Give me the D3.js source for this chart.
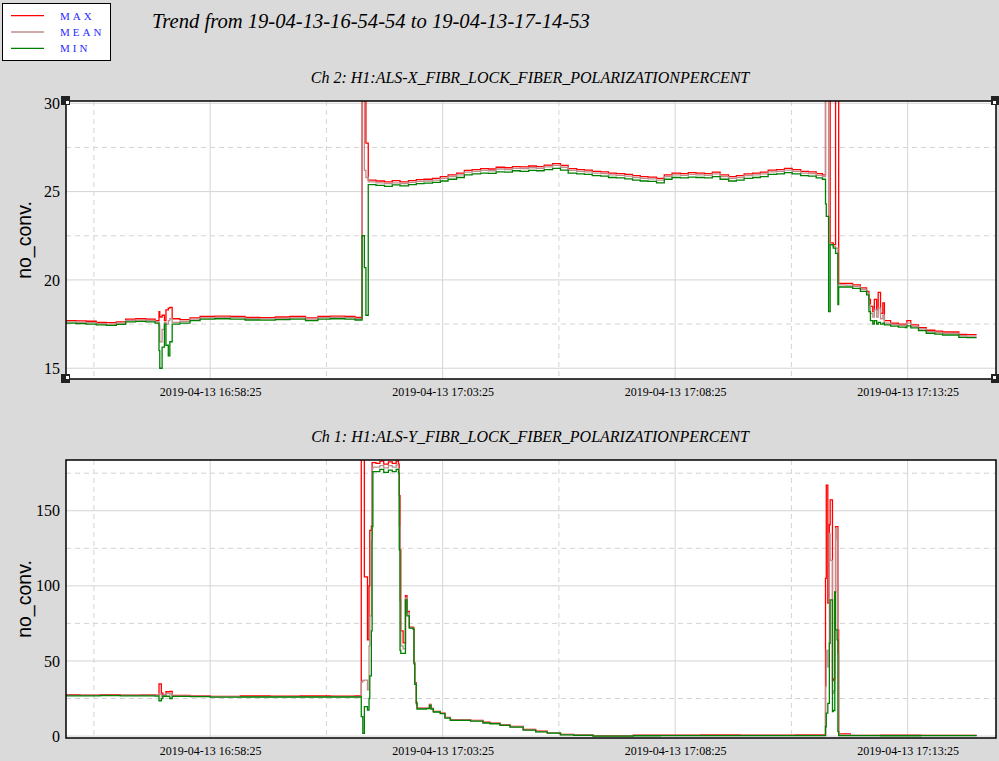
<!DOCTYPE html>
<html>
<script src="https://cdn.jsdelivr.net/npm/d3@7"></script>
<style>
  body, html { margin: 0; padding: 0; background: #dadada; }
  svg { display: block; }
</style>
<body>
<svg width="999" height="761"></svg>
<script>

// time axis: seconds after 16:55:19
var t0 = new Date(2019, 3, 13, 16, 55, 19),
    t1 = new Date(2019, 3, 13, 17, 15, 19);

var majorTicks = ['16:58:25', '17:03:25', '17:08:25', '17:13:25'],
    minorTicks = ['16:55:55', '17:00:55', '17:05:55', '17:10:55'];

var seriesNames = ['MAX', 'MEAN', 'MIN'],
    seriesColors = ['#ff0000', '#bc8f8f', '#008000'];

// Ch 2 (top)
var ch2Sec = [0,13,26,39,52,65,77,90,103,115,
  120,121,124,127,129,132,134,137,147,160,
  173,192,212,231,250,270,289,309,325,341,
  360,373,382,385,387,390,400,411,421,431,
  442,452,462,473,483,493,504,514,524,535,
  545,555,566,576,586,597,607,617,628,638,
  648,659,669,679,690,700,710,721,731,741,
  751,762,772,782,793,803,813,824,834,844,
  855,865,875,886,896,906,917,927,937,948,
  958,968,976,980,981,984,986,990,993,996,
  997,1006,1015,1025,1033,1036,1038,1041,1043,1046,
  1048,1051,1054,1056,1064,1074,1083,1085,1090,1100,
  1110,1121,1131,1141,1152,1162,1175];
var ch2Max = [17.7,17.68,17.66,17.6,17.58,17.62,17.78,17.8,17.78,17.7,
  18.2,17.9,18.0,17.7,18.3,18.4,18.45,17.8,17.75,17.85,
  17.93,17.95,17.93,17.88,17.86,17.9,17.93,17.85,17.93,17.95,
  17.93,17.88,32,32,27.75,25.65,25.6,25.55,25.62,25.55,
  25.62,25.68,25.7,25.75,25.85,25.95,26.05,26.2,26.25,26.3,
  26.28,26.38,26.35,26.42,26.4,26.45,26.42,26.5,26.58,26.48,
  26.3,26.25,26.22,26.15,26.12,26.05,26.02,25.98,25.9,25.85,
  25.82,25.75,25.95,26.05,26.02,26.08,26.05,26.02,26.1,25.95,
  25.85,25.9,26.0,26.05,26.1,26.22,26.25,26.32,26.25,26.15,
  26.12,26.02,25.95,32,32,32,22.1,22.0,32,32,
  19.8,19.8,19.72,19.55,19.35,18.9,18.5,18.2,18.9,18.3,
  19.3,18.1,18.7,17.7,17.55,17.5,17.5,17.7,17.45,17.3,
  17.15,17.1,17.05,17.05,16.92,16.9,16.9];
var ch2Mean = [17.62,17.6,17.58,17.52,17.5,17.55,17.7,17.72,17.7,17.62,
  17.4,16.5,17.2,17.6,17.5,17.7,17.8,17.6,17.65,17.78,
  17.85,17.88,17.86,17.8,17.79,17.82,17.85,17.78,17.86,17.88,
  17.86,17.8,31,26.2,25.8,25.55,25.5,25.45,25.5,25.46,
  25.52,25.58,25.6,25.65,25.75,25.85,25.95,26.1,26.15,26.2,
  26.18,26.28,26.25,26.32,26.3,26.35,26.32,26.4,26.48,26.38,
  26.2,26.15,26.12,26.05,26.02,25.95,25.92,25.88,25.8,25.75,
  25.72,25.65,25.85,25.95,25.92,25.98,25.95,25.92,26.0,25.85,
  25.75,25.8,25.9,25.95,26.0,26.12,26.15,26.22,26.15,26.05,
  26.02,25.92,25.85,31,31,22.1,22.0,21.9,21.8,19.8,
  19.72,19.7,19.63,19.46,19.25,18.6,18.1,17.9,18.3,17.9,
  18.4,17.8,18.0,17.55,17.47,17.42,17.4,17.55,17.37,17.22,
  17.07,17.02,16.97,16.97,16.84,16.82,16.82];
var ch2Min = [17.55,17.52,17.5,17.45,17.43,17.48,17.63,17.65,17.62,17.55,
  16.0,15.0,16.2,17.5,16.3,15.7,16.5,17.5,17.55,17.7,
  17.78,17.8,17.78,17.73,17.72,17.75,17.78,17.7,17.78,17.8,
  17.78,17.73,22.5,20.7,18.0,25.4,25.35,25.3,25.38,25.32,
  25.4,25.45,25.48,25.52,25.6,25.7,25.8,25.95,26.0,26.05,
  26.03,26.12,26.1,26.18,26.15,26.2,26.18,26.25,26.32,26.22,
  26.05,26.0,25.98,25.9,25.88,25.8,25.78,25.72,25.65,25.6,
  25.58,25.5,25.7,25.8,25.78,25.82,25.8,25.78,25.85,25.7,
  25.6,25.65,25.75,25.8,25.85,25.98,26.0,26.08,26.0,25.9,
  25.88,25.78,25.7,24.3,23.6,18.2,22.0,21.8,21.5,18.6,
  19.6,19.6,19.52,19.35,19.15,18.2,17.7,17.5,17.7,17.5,
  17.6,17.5,17.55,17.45,17.38,17.33,17.3,17.4,17.28,17.13,
  16.98,16.93,16.88,16.88,16.75,16.73,16.73];

// Ch 1 (bottom)
var ch1Sec = [0,18,44,70,96,115,120,123,125,129,
  134,137,160,186,225,263,302,341,373,381,
  383,385,389,391,392,394,395,396,400,405,
  410,416,421,426,429,430,431,432,435,438,
  440,443,448,449,450,452,453,465,469,471,
  474,483,489,496,522,538,547,560,573,590,
  606,621,638,655,680,724,732,767,819,870,
  922,941,961,979,980,981,983,985,986,989,
  990,992,993,995,996,997,1012,1051,1103,1141,
  1175];
var ch1Max = [27.6,27.3,27.6,27.3,27.4,27.3,34.7,28.5,27.3,29.5,
  29.8,27.0,26.7,26.4,26.8,26.6,26.8,26.6,26.7,190,
  190,106,64,100,137,140,182,182,181.5,183,
  181,182.5,181.5,183,181,160,124,70,62,93.5,
  83,72.5,72,49,35.5,22.5,18.6,18.6,21,18.4,
  16.4,15.3,12.4,10.9,10.5,9.2,8.6,7.5,6.4,4.4,
  3.2,2.3,1.1,0.8,0.3,0.3,0.6,0.6,0.7,0.6,
  0.6,0.8,0.8,0.6,105,167,88.6,140.7,157.3,37,
  38,96,139.5,139.5,70.7,1.5,0.5,0.6,0.5,0.5,
  0.5];
var ch1Mean = [27.3,27.2,27.3,27.2,27.2,27.1,28.0,26.5,27.0,28.2,
  28.0,26.8,26.5,26.2,26.3,26.3,26.3,26.3,26.3,36,
  37,37.3,30.7,60,80,130,178,179,179,180,
  178.5,180,179,180.5,178,140,90,60,58,92,
  82,72,71.5,48.7,35,22,18.4,18.4,20.7,18.2,
  16.2,15.1,12.2,10.7,10.2,8.9,8.4,7.3,6.2,4.1,
  3.0,2.2,1.0,0.7,0.1,0.1,0.4,0.4,0.5,0.4,
  0.4,0.5,0.5,0.5,33,57,46,135,117,28.4,
  30,96,138.4,130.7,55,0.8,0.4,0.4,0.4,0.4,
  0.4];
var ch1Min = [26.8,26.8,26.9,26.8,26.8,26.6,23.5,25.0,26.5,26.5,
  25.0,26.4,26.2,25.9,26.0,26.0,26.0,26.0,26.0,12.9,
  1.8,19.6,17.3,25,40,70,139.5,176,176,177.5,
  175.5,177,176,177.5,175,124,57,55,55,90.7,
  80,71.8,71,48,34.5,21.5,18,18.2,20.4,18,
  16,14.9,12,10.5,10,8.7,8.2,7.1,6,3.9,
  2.8,2.0,0.8,0.5,0,0,0.2,0.3,0.3,0.3,
  0.3,0.3,0.3,0.3,6.2,15.3,21.8,61.8,90.7,16.2,
  17,96,70.7,64,2.9,0.3,0.3,0.2,0.3,0.3,
  0.3];

var svg = d3.select('svg');
var serif = 'Liberation Serif, Times New Roman, serif',
    sans = 'Liberation Sans, Arial, sans-serif';

function atTime(hms) {
  var p = hms.split(':').map(Number);
  return new Date(2019, 3, 13, p[0], p[1], p[2]);
}
function fromSec(s) { return new Date(t0.getTime() + s * 1000); }

var fmt = d3.timeFormat('%Y-%m-%d %H:%M:%S');

// title + legend
svg.append('text')
  .attr('x', 152).attr('y', 28)
  .style('font-family', serif).style('font-style', 'italic').style('font-size', '20.6px')
  .text('Trend from 19-04-13-16-54-54 to 19-04-13-17-14-53');

var legend = svg.append('g');
legend.append('rect')
  .attr('x', 2.5).attr('y', 3.5).attr('width', 108).attr('height', 57)
  .attr('fill', '#fff').attr('stroke', '#000').attr('stroke-width', 1);
seriesNames.forEach(function (name, i) {
  var y = 15.7 + i * 16.3;
  legend.append('line')
    .attr('x1', 11).attr('x2', 44).attr('y1', y).attr('y2', y)
    .attr('stroke', seriesColors[i]).attr('stroke-width', 1.3);
  legend.append('text')
    .attr('x', 60).attr('y', y + 4)
    .style('font-family', serif).style('font-size', '11px')
    .style('letter-spacing', '3px').attr('fill', '#2a2aff')
    .text(name);
});

function panel(opt) {
  var left = 66, right = 996;
  var x = d3.scaleTime().domain([t0, t1]).range([left, right]),
      y = d3.scaleLinear().domain(opt.domain).range([opt.bottom, opt.top]);

  var g = svg.append('g');

  svg.append('text')
    .attr('x', 530).attr('y', opt.top - 18.5)
    .attr('text-anchor', 'middle')
    .style('font-family', serif).style('font-style', 'italic').style('font-size', '16px')
    .text(opt.title);

  g.append('rect')
    .attr('x', left).attr('y', opt.top)
    .attr('width', right - left).attr('height', opt.bottom - opt.top)
    .attr('fill', '#fff');

  // grid
  var grid = g.append('g').attr('stroke', '#d4d4d4').attr('stroke-width', 1);
  grid.selectAll('.vmaj').data(majorTicks.map(atTime)).enter().append('line')
    .attr('x1', d => x(d)).attr('x2', d => x(d))
    .attr('y1', opt.top).attr('y2', opt.bottom);
  grid.selectAll('.vmin').data(minorTicks.map(atTime)).enter().append('line')
    .attr('x1', d => x(d)).attr('x2', d => x(d))
    .attr('y1', opt.top).attr('y2', opt.bottom)
    .attr('stroke-dasharray', '5,4');
  grid.selectAll('.hmaj').data(opt.ticks).enter().append('line')
    .attr('x1', left).attr('x2', right)
    .attr('y1', d => y(d)).attr('y2', d => y(d));
  grid.selectAll('.hmin').data(opt.minor).enter().append('line')
    .attr('x1', left).attr('x2', right)
    .attr('y1', d => y(d)).attr('y2', d => y(d))
    .attr('stroke-dasharray', '5,4');

  // traces
  var clipId = 'clip' + opt.id;
  g.append('clipPath').attr('id', clipId).append('rect')
    .attr('x', left).attr('y', opt.top)
    .attr('width', right - left).attr('height', opt.bottom - opt.top);

  var line = d3.line()
    .x(d => x(fromSec(d[0])))
    .y(d => y(d[1]))
    .curve(d3.curveStepAfter);

  [opt.max, opt.mean, opt.min].forEach(function (vals, i) {
    g.append('path')
      .datum(opt.sec.map((s, j) => [s, vals[j]]))
      .attr('clip-path', 'url(#' + clipId + ')')
      .attr('fill', 'none')
      .attr('stroke', seriesColors[i])
      .attr('stroke-width', 1.3)
      .attr('d', line);
  });

  g.append('rect')
    .attr('x', left).attr('y', opt.top)
    .attr('width', right - left).attr('height', opt.bottom - opt.top)
    .attr('fill', 'none').attr('stroke', '#000').attr('stroke-width', 1.5);

  // axes
  var xa = g.append('g')
    .attr('transform', 'translate(0,' + (opt.bottom + 5) + ')')
    .call(d3.axisBottom(x).tickValues(majorTicks.map(atTime)).tickFormat(fmt).tickSize(0));
  xa.select('.domain').remove();
  xa.selectAll('text').style('font-family', serif).style('font-size', '12px').attr('fill', '#000');

  var ya = g.append('g')
    .attr('transform', 'translate(' + (left - 6) + ',0)')
    .call(d3.axisLeft(y).tickValues(opt.ticks).tickSize(0).tickPadding(0));
  ya.select('.domain').remove();
  ya.selectAll('text').style('font-family', serif).style('font-size', '16px').attr('fill', '#000');

  svg.append('text')
    .attr('transform', 'translate(31,' + ((opt.top + opt.bottom) / 2) + ') rotate(-90)')
    .attr('text-anchor', 'middle')
    .style('font-family', sans).style('font-size', '19.5px')
    .text('no_conv.');

  if (opt.marks) {
    [[left, opt.top], [right, opt.top], [left, opt.bottom], [right, opt.bottom]].forEach(function (c) {
      svg.append('rect')
        .attr('x', c[0] - 5).attr('y', c[1] - 5).attr('width', 9).attr('height', 9)
        .attr('fill', '#222');
      svg.append('rect')
        .attr('x', c[0] + (c[0] === left ? 0 : -3)).attr('y', c[1] + (c[1] === opt.top ? 0 : -3))
        .attr('width', 3).attr('height', 3).attr('fill', '#fff');
    });
  }
}

panel({
  id: 2, top: 101, bottom: 379, domain: [14.39, 30.13],
  ticks: [15, 20, 25, 30], minor: [17.5, 22.5, 27.5],
  title: 'Ch 2: H1:ALS-X_FIBR_LOCK_FIBER_POLARIZATIONPERCENT',
  sec: ch2Sec, max: ch2Max, mean: ch2Mean, min: ch2Min,
  marks: true
});

panel({
  id: 1, top: 460, bottom: 738, domain: [-1.3, 183.8],
  ticks: [0, 50, 100, 150], minor: [25, 75, 125, 175],
  title: 'Ch 1: H1:ALS-Y_FIBR_LOCK_FIBER_POLARIZATIONPERCENT',
  sec: ch1Sec, max: ch1Max, mean: ch1Mean, min: ch1Min,
  marks: false
});

</script>
</body>
</html>
